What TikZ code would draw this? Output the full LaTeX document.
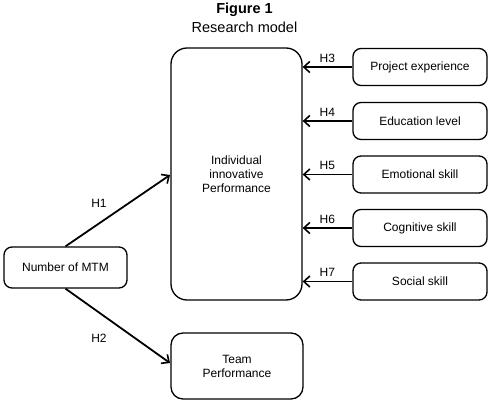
\documentclass[tikz,border=0pt]{standalone}
\usepackage{fontspec}
\setmainfont{Liberation Sans}
\usetikzlibrary{arrows.meta}
\begin{document}
\begin{tikzpicture}[x=1pt,y=-1pt,
  box/.style={draw,line width=1.3pt,rounded corners=8pt,inner sep=0pt,align=center,font=\fontsize{12}{14}\selectfont},
  arr/.style={line width=1.8pt,-{Straight Barb[length=6pt,width=11pt,line width=1.6pt]}},
  lab/.style={font=\fontsize{12}{14}\selectfont,inner sep=0pt}]
\useasboundingbox (0,0) rectangle (490,404);
\node[font=\bfseries\fontsize{14.5}{16}\selectfont] (t1) at (244.5,10) {Figure 1};
\node[font=\fontsize{14.5}{16}\selectfont] (t2) at (244.5,27) {Research model};
\node[box,rounded corners=16pt,minimum width=131pt,minimum height=252pt] (ip) at (236.5,174) {Individual\\innovative\\Performance};
\node[box,minimum width=123pt,minimum height=41pt] (mtm) at (65.5,267.5) {Number of MTM};
\node[box,rounded corners=12pt,minimum width=132pt,minimum height=66pt] (tp) at (237,366) {Team\\Performance};
\node[box,minimum width=134pt,minimum height=37pt] (pe) at (420,67) {Project experience};
\node[box,minimum width=134pt,minimum height=37pt] (el) at (420,121) {Education level};
\node[box,minimum width=134pt,minimum height=37pt] (es) at (420,174.5) {Emotional skill};
\node[box,minimum width=134pt,minimum height=37pt] (cs) at (420,228) {Cognitive skill};
\node[box,minimum width=134pt,minimum height=37pt] (ss) at (420,281.5) {Social skill};
\coordinate (h1e) at (170,175);
\coordinate (h2e) at (170,363);
\draw[arr] (mtm.north) -- (h1e);
\draw[arr] (mtm.south) -- (h2e);
\foreach \n/\h in {pe/H3,el/H4,es/H5,cs/H6,ss/H7}{
  \draw[arr] (\n.west) -- (\n.west -| ip.east);
  \node[lab] at ([xshift=-25pt,yshift=9pt]\n.west) {\h};
}
\node[lab] (h1) at (99,203) {H1};
\node[lab] (h2) at (99,338) {H2};
\end{tikzpicture}
\end{document}
